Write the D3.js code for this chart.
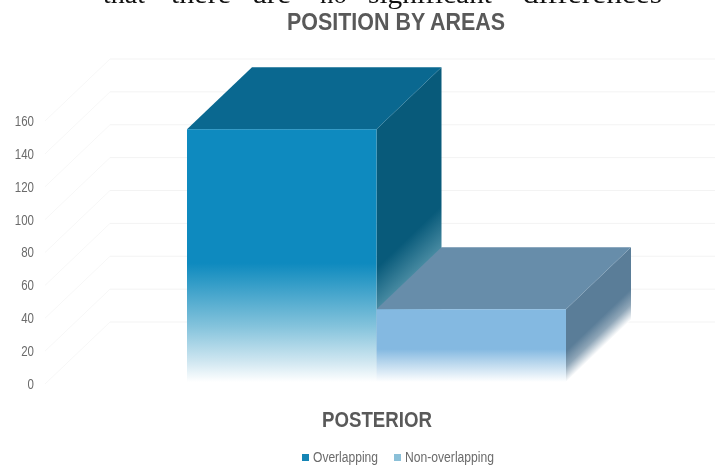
<!DOCTYPE html>
<html><head><meta charset="utf-8">
<script src="https://cdn.jsdelivr.net/npm/d3@7/dist/d3.min.js"></script>
<style>html,body{margin:0;padding:0;background:#fff;overflow:hidden}svg{display:block;filter:blur(0.45px)}</style>
</head><body><div id="c"></div>
<script>
const seriesNames = ["Overlapping", "Non-overlapping"];
const seriesValues = [155, 45.5];
const categories = ["POSTERIOR"];
const tickValues = [0, 20, 40, 60, 80, 100, 120, 140, 160];
const headerWords = ["that", "there", "are", "no", "significant", "differences"];
const headerX = [103, 171, 253, 320, 368, 523];
const headerW = [42, 60, 38, 27, 124, 139];

const W = 715, H = 468;
const svg = d3.select("#c").append("svg").attr("width", W).attr("height", H);
const y = d3.scaleLinear().domain([0, 160]).range([384, 121]);
const xCat = d3.scaleBand().domain(categories).range([187, 566]);
const x = d3.scaleBand().domain(seriesNames).range(xCat.range());
const dx = 65, dy = -62;
const y0 = y(0) - 2;
const norm = [0.69, 0.72];

const defs = svg.append("defs");
function grad(id, stops, x1, y1, x2, y2) {
  const g = defs.append("linearGradient").attr("id", id).attr("gradientUnits", "userSpaceOnUse")
    .attr("x1", x1).attr("y1", y1).attr("x2", x2).attr("y2", y2);
  stops.forEach(s => g.append("stop").attr("offset", s[0]).attr("stop-color", s[1]));
}
function sideGrad(id, i, dist, stops) {
  const xr = x(seriesNames[i]) + x.bandwidth();
  const mx = xr + dx / 2, my = y0 + dy / 2;
  grad(id, stops, mx - norm[0] * dist, my - norm[1] * dist, mx, my);
}
grad("f0", [[0, "#0e8abf"], [0.53, "#0e8abf"], [0.6, "#2e9ac6"], [0.78, "#84c3dc"], [0.92, "#d0e7f1"], [1, "#ffffff"]], 0, y(seriesValues[0]), 0, y0);
grad("f1", [[0, "#84b9e1"], [0.55, "#84b9e1"], [0.72, "#b4d4ec"], [1, "#ffffff"]], 0, y(seriesValues[1]), 0, y0);
sideGrad("s0", 0, 150, [[0, "#085a7a"], [0.45, "#085a7a"], [0.66, "#4a8ca3"], [1, "#ffffff"]]);
sideGrad("s1", 1, 28, [[0, "#5a7d98"], [0.2, "#5a7d98"], [0.6, "#8fa6b8"], [1, "#ffffff"]]);

const grid = svg.append("g");
tickValues.forEach(t => {
  grid.append("path")
    .attr("d", d3.line()([[45, y(t)], [45 + dx, y(t) + dy]]))
    .attr("fill", "none").attr("stroke", "#f7f7f7").attr("stroke-width", 1);
  grid.append("path")
    .attr("d", d3.line()([[45 + dx, y(t) + dy], [W, y(t) + dy]]))
    .attr("fill", "none").attr("stroke", "#f3f3f3").attr("stroke-width", 1);
});

const sans = "'Liberation Sans',sans-serif";
function fit(sel, len) { return sel.attr("textLength", len).attr("lengthAdjust", "spacingAndGlyphs"); }

const axis = d3.axisLeft(y).tickValues(tickValues).tickSize(0).tickPadding(0);
const gAxis = svg.append("g").attr("transform", "translate(34,0)").call(axis);
gAxis.select(".domain").remove();
gAxis.selectAll("text").attr("fill", "#6b6b6b").attr("font-family", sans).attr("font-size", 14)
  .each(function (d) { fit(d3.select(this), String(d).length * 6.4); });

seriesNames.forEach((name, i) => {
  const xl = x(name), xr = xl + x.bandwidth(), top = y(seriesValues[i]);
  const g = svg.append("g");
  const topColor = i === 0 ? "#0a6890" : "#678daa";
  const path = pts => d3.line()(pts) + "Z";
  g.append("path").attr("d", path([[xr, top], [xr + dx, top + dy], [xr + dx, y0 + dy], [xr, y0]])).attr("fill", `url(#s${i})`);
  g.append("path").attr("d", path([[xl, top], [xl + dx, top + dy], [xr + dx, top + dy], [xr, top]])).attr("fill", topColor);
  g.append("rect").attr("x", xl).attr("y", top).attr("width", x.bandwidth()).attr("height", y0 - top).attr("fill", `url(#f${i})`);
});

headerWords.forEach((w, i) => {
  fit(svg.append("text").attr("x", headerX[i]).attr("y", 3).text(w)
    .attr("font-family", "'Liberation Serif',serif").attr("font-size", 28).attr("fill", "#111"), headerW[i]);
});
fit(svg.append("text").attr("x", 287).attr("y", 30).text("POSITION BY AREAS")
  .attr("font-family", sans).attr("font-weight", 700).attr("font-size", 24).attr("fill", "#595959"), 218);
fit(svg.append("text").attr("x", 322).attr("y", 427).text(categories[0])
  .attr("font-family", sans).attr("font-weight", 700).attr("font-size", 22).attr("fill", "#595959"), 110);

const legendX = [302, 394];
const legendW = [65, 89];
const legendColors = ["#1585b5", "#8bc0d8"];
seriesNames.forEach((n, i) => {
  svg.append("rect").attr("x", legendX[i]).attr("y", 454).attr("width", 7).attr("height", 7).attr("fill", legendColors[i]);
  fit(svg.append("text").attr("x", legendX[i] + 11).attr("y", 462).text(n)
    .attr("font-family", sans).attr("font-size", 14).attr("fill", "#6b6b6b"), legendW[i]);
});
</script></body></html>
